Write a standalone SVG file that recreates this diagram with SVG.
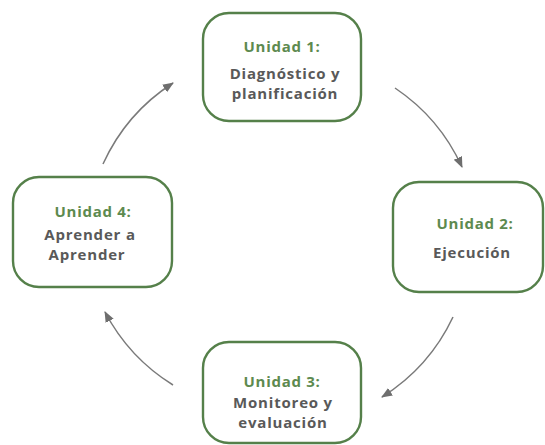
<svg xmlns="http://www.w3.org/2000/svg" width="545" height="445" viewBox="0 0 545 445">
  <style>
    .box { fill: #ffffff; stroke: #55804a; stroke-width: 2.4; }
    .title { font-family: "Open Sans", "DejaVu Sans", sans-serif; font-weight: 700; font-size: 15px; letter-spacing: 0.7px; fill: #5d8a4f; text-anchor: middle; }
    .body { font-family: "Open Sans", "DejaVu Sans", sans-serif; font-weight: 700; font-size: 15px; letter-spacing: 0.8px; fill: #595959; text-anchor: middle; }
    .arc { fill: none; stroke: #7a7a7a; stroke-width: 1.5; marker-end: url(#head); }
  </style>
  <defs>
    <marker id="head" markerUnits="userSpaceOnUse" markerWidth="12" markerHeight="10" refX="10" refY="4.5" orient="auto">
      <path d="M0,0 L11,4.5 L0,9 z" fill="#6e6e6e"/>
    </marker>
  </defs>

  <!-- curved arrows running clockwise between the units -->
  <g id="connectors">
    <path class="arc" d="M395,88 A190,190 0 0,1 462,167"/>
    <path class="arc" d="M453,317 A190,190 0 0,1 382,397"/>
    <path class="arc" d="M173,385 A190,190 0 0,1 105,312"/>
    <path class="arc" d="M103,164 A190,190 0 0,1 173,83"/>
  </g>

  <g id="unidad1">
    <rect class="box" x="203" y="13" width="158" height="108" rx="26"/>
    <text class="title" x="282" y="52">Unidad 1:</text>
    <text class="body" x="285" y="79">Diagnóstico y</text>
    <text class="body" x="285" y="99">planificación</text>
  </g>

  <g id="unidad2">
    <rect class="box" x="393" y="182" width="150" height="110" rx="26"/>
    <text class="title" x="475" y="229">Unidad 2:</text>
    <text class="body" x="472" y="258">Ejecución</text>
  </g>

  <g id="unidad3">
    <rect class="box" x="203" y="342" width="158" height="101" rx="26"/>
    <text class="title" x="282" y="387">Unidad 3:</text>
    <text class="body" x="283" y="408">Monitoreo y</text>
    <text class="body" x="283" y="428">evaluación</text>
  </g>

  <g id="unidad4">
    <rect class="box" x="13" y="177" width="159" height="110" rx="26"/>
    <text class="title" x="93" y="217">Unidad 4:</text>
    <text class="body" x="90" y="240">Aprender a</text>
    <text class="body" x="87" y="260">Aprender</text>
  </g>
</svg>
